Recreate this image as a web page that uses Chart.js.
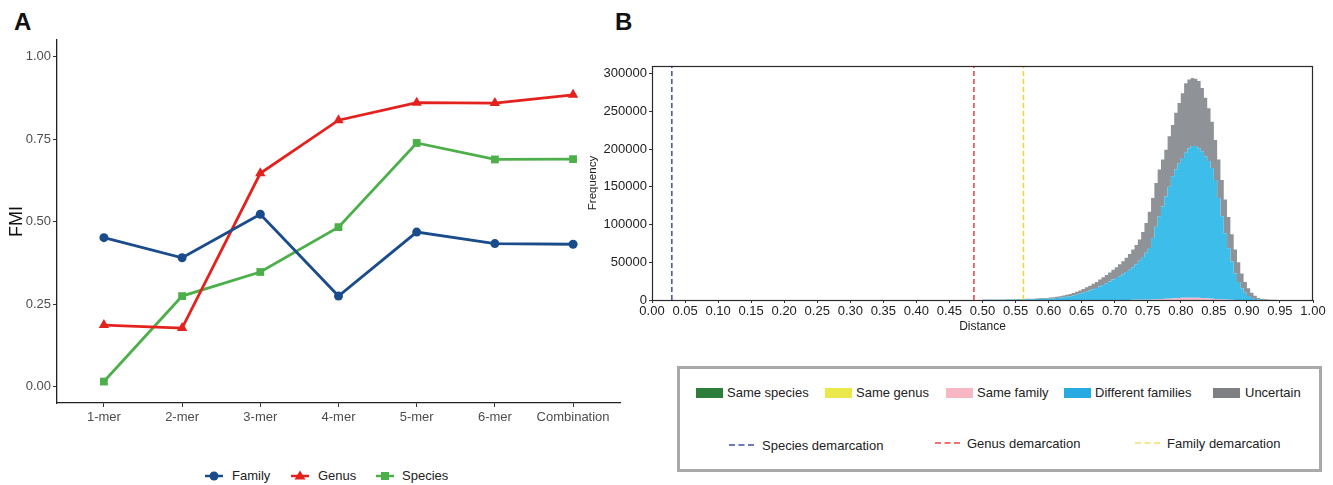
<!DOCTYPE html>
<html>
<head>
<meta charset="utf-8">
<script src="https://cdn.jsdelivr.net/npm/chart.js@4.4.1/dist/chart.umd.min.js"></script>
<style>
  body { margin: 0; width: 1333px; height: 485px; background: #fff; overflow: hidden; position: relative;
         font-family: "Liberation Sans", Arial, sans-serif; }
  .panel-label { position: absolute; font-weight: bold; font-size: 24px; color: #111; line-height: 24px; }
  #wrapA { position: absolute; left: 0; top: 0; width: 630px; height: 440px; }
  #wrapB { position: absolute; left: 580px; top: 40px; width: 760px; height: 300px; }
  .leg { position: absolute; font-size: 13px; color: #222; white-space: nowrap; line-height: 14px; }
  .sw { position: absolute; width: 27px; height: 10px; }
  #legBox { position: absolute; left: 677px; top: 366px; width: 639px; height: 100px; border: 3px solid #a9a9a9; }
  svg { position: absolute; overflow: visible; }
</style>
</head>
<body>
<div class="panel-label" style="left:14px; top:10px;">A</div>
<div class="panel-label" style="left:615px; top:10px;">B</div>

<div id="wrapA"><canvas id="chartA"></canvas></div>
<div id="wrapB"><canvas id="chartB"></canvas></div>

<!-- legend of panel A -->
<svg style="left:205px; top:470px;" width="18" height="12">
  <line x1="0" y1="6" x2="18" y2="6" stroke="#1a4c8b" stroke-width="2.5"/>
  <circle cx="9" cy="6" r="4.5" fill="#1a4c8b"/>
</svg>
<span class="leg" style="left:232px; top:469px;">Family</span>
<svg style="left:291px; top:470px;" width="18" height="12">
  <line x1="0" y1="6" x2="18" y2="6" stroke="#e3221e" stroke-width="2.5"/>
  <polygon points="9,0.5 14.5,9.5 3.5,9.5" fill="#e3221e"/>
</svg>
<span class="leg" style="left:318px; top:469px;">Genus</span>
<svg style="left:376px; top:470px;" width="18" height="12">
  <line x1="0" y1="6" x2="18" y2="6" stroke="#4daf4a" stroke-width="2.5"/>
  <rect x="5" y="2" width="8" height="8" fill="#4daf4a"/>
</svg>
<span class="leg" style="left:402px; top:469px;">Species</span>

<!-- legend of panel B -->
<div id="legBox"></div>
<div class="sw" style="left:696px; top:388px; background:#2e7d3a;"></div>
<span class="leg" style="left:727px; top:386px;">Same species</span>
<div class="sw" style="left:825px; top:388px; background:#eae84a;"></div>
<span class="leg" style="left:856px; top:386px;">Same genus</span>
<div class="sw" style="left:946px; top:388px; background:#f7b7c3;"></div>
<span class="leg" style="left:977px; top:386px;">Same family</span>
<div class="sw" style="left:1064px; top:388px; background:#27aae1;"></div>
<span class="leg" style="left:1095px; top:386px;">Different families</span>
<div class="sw" style="left:1213px; top:388px; background:#7f8083;"></div>
<span class="leg" style="left:1245px; top:386px;">Uncertain</span>

<svg style="left:729px; top:440px;" width="28" height="10">
  <line x1="0" y1="5" x2="28" y2="5" stroke="#3c4da8" stroke-width="1.5" stroke-dasharray="6,3.5"/>
</svg>
<span class="leg" style="left:762px; top:439px;">Species demarcation</span>
<svg style="left:935px; top:438px;" width="28" height="10">
  <line x1="0" y1="5" x2="28" y2="5" stroke="#ee4444" stroke-width="1.5" stroke-dasharray="6,3.5"/>
</svg>
<span class="leg" style="left:967px; top:437px;">Genus demarcation</span>
<svg style="left:1135px; top:438px;" width="28" height="10">
  <line x1="0" y1="5" x2="28" y2="5" stroke="#f0e26a" stroke-width="1.5" stroke-dasharray="6,3.5"/>
</svg>
<span class="leg" style="left:1167px; top:437px;">Family demarcation</span>

<script>
// panel A: FMI per k-mer
const categoriesA = ['1-mer', '2-mer', '3-mer', '4-mer', '5-mer', '6-mer', 'Combination'];
const fmiFamily  = [0.451, 0.390, 0.522, 0.274, 0.468, 0.433, 0.431];
const fmiGenus   = [0.186, 0.177, 0.646, 0.807, 0.860, 0.859, 0.884];
const fmiSpecies = [0.015, 0.274, 0.347, 0.483, 0.738, 0.688, 0.689];
const yTicksA = [0, 0.25, 0.5, 0.75, 1];

// panel B: distance histogram, bin centres (width 0.005), counts in thousands
const binCenters = [
  0.4975, 0.5025, 0.5075, 0.5125, 0.5175, 0.5225, 0.5275, 0.5325, 0.5375, 0.5425, 0.5475,
  0.5525, 0.5575, 0.5625, 0.5675, 0.5725, 0.5775, 0.5825, 0.5875, 0.5925, 0.5975,
  0.6025, 0.6075, 0.6125, 0.6175, 0.6225, 0.6275, 0.6325, 0.6375, 0.6425, 0.6475,
  0.6525, 0.6575, 0.6625, 0.6675, 0.6725, 0.6775, 0.6825, 0.6875, 0.6925, 0.6975,
  0.7025, 0.7075, 0.7125, 0.7175, 0.7225, 0.7275, 0.7325, 0.7375, 0.7425, 0.7475,
  0.7525, 0.7575, 0.7625, 0.7675, 0.7725, 0.7775, 0.7825, 0.7875, 0.7925, 0.7975,
  0.8025, 0.8075, 0.8125, 0.8175, 0.8225, 0.8275, 0.8325, 0.8375, 0.8425, 0.8475,
  0.8525, 0.8575, 0.8625, 0.8675, 0.8725, 0.8775, 0.8825, 0.8875, 0.8925, 0.8975,
  0.9025, 0.9075, 0.9125, 0.9175, 0.9225, 0.9275, 0.9325, 0.9375, 0.9425, 0.9475, 0.9525
];
const sameFamilyK = [
  0, 0, 0, 0, 0, 0, 0, 0, 0, 0, 0,
  0, 0, 0, 0, 0, 0, 0, 0, 0, 0,
  0, 0, 0, 0, 0, 0, 0, 0, 0, 0,
  0, 0, 0, 0, 0, 0, 0, 0, 0, 0,
  0.1, 0.1, 0.1, 0.15, 0.15, 0.2, 0.2, 0.2, 0.25, 0.25,
  0.3, 0.5, 0.7, 0.9, 1.2, 1.5, 1.8, 2.1, 2.4, 2.7,
  2.9, 3.0, 3.1, 3.1, 3.0, 2.9, 2.7, 2.4, 2.1, 1.7,
  1.4, 1.0, 0.7, 0.5, 0.3, 0.2, 0.1, 0, 0, 0,
  0, 0, 0, 0, 0, 0, 0, 0, 0, 0, 0
];
const differentFamiliesK = [
  0, 0.3, 0.3, 0.35, 0.35, 0.4, 0.4, 0.45, 0.5, 0.6, 0.65,
  0.7, 0.8, 0.85, 0.9, 1.0, 1.1, 1.2, 1.35, 1.5, 1.65,
  1.8, 2.1, 2.5, 3.0, 3.5, 4.2, 5.0, 5.9, 7.0, 8.2,
  9.5, 11.0, 12.6, 14.3, 16.0, 18.0, 20.0, 22.2, 24.5, 27.0,
  28.9, 31.4, 33.9, 36.9, 39.9, 43.3, 47.3, 51.8, 56.8, 62.3,
  68.7, 81.5, 96.3, 110.1, 122.8, 135.5, 148.2, 161.9, 170.6, 178.3,
  185.1, 192.0, 197.9, 200.9, 201.0, 198.1, 194.3, 187.6, 181.9, 173.3,
  157.6, 134.0, 110.3, 88.0, 68.3, 50.8, 34.9, 24.0, 15.5, 9.7,
  5.3, 2.7, 1.2, 0.6, 0.3, 0.15, 0.1, 0.05, 0, 0, 0
];
const uncertainK = [
  0, 0.2, 0.2, 0.25, 0.25, 0.3, 0.3, 0.35, 0.4, 0.4, 0.45,
  0.5, 0.5, 0.55, 0.6, 0.7, 0.7, 0.8, 0.85, 1.0, 1.15,
  1.4, 1.6, 1.8, 2.0, 2.3, 2.6, 3.0, 3.4, 3.8, 4.3,
  5.0, 5.8, 6.4, 7.2, 8.0, 9.0, 10.0, 10.8, 12.0, 13.0,
  14.5, 16.0, 17.5, 19.0, 21.0, 23.5, 25.5, 28.0, 33.0, 39.5,
  48.0, 53.0, 58.0, 62.0, 62.0, 62.0, 67.0, 68.0, 75.0, 80.0,
  86.0, 92.0, 91.0, 90.0, 89.0, 89.0, 84.0, 78.0, 70.0, 61.0,
  53.0, 51.0, 48.0, 44.5, 41.4, 36.0, 32.0, 26.0, 19.5, 14.3,
  10.2, 7.0, 4.3, 2.2, 1.2, 0.75, 0.4, 0.25, 0.2, 0.1, 0
];
const speciesCut = 0.03;
const genusCut = 0.487;
const familyCut = 0.562;
const yMaxB = 310000;
const yTicksB = [0, 50000, 100000, 150000, 200000, 250000, 300000];
const xTicksB = [0, 0.05, 0.1, 0.15, 0.2, 0.25, 0.3, 0.35, 0.4, 0.45, 0.5,
                 0.55, 0.6, 0.65, 0.7, 0.75, 0.8, 0.85, 0.9, 0.95, 1];

Chart.defaults.font.family = '"Liberation Sans", Arial, sans-serif';
Chart.defaults.animation = false;

function kmerSeries(label, values, color, style, radius) {
    return {
        label: label,
        data: values.map((v, i) => ({ x: i, y: v })),
        borderColor: color,
        backgroundColor: color,
        borderWidth: 2.8,
        pointStyle: style,
        pointRadius: radius,
        pointBorderWidth: 0,
        tension: 0
    };
}

new Chart(document.getElementById('chartA'), {
    type: 'line',
    data: {
        datasets: [
            kmerSeries('Family', fmiFamily, '#1a4c8b', 'circle', 4.5),
            kmerSeries('Genus', fmiGenus, '#e3221e', 'triangle', 6),
            kmerSeries('Species', fmiSpecies, '#4daf4a', 'rect', 5.5)
        ]
    },
    options: {
        responsive: true,
        maintainAspectRatio: false,
        layout: { padding: { top: 40, right: 10, left: 0, bottom: 0 } },
        plugins: { legend: { display: false }, tooltip: { enabled: false } },
        scales: {
            x: {
                type: 'linear',
                min: -0.6,
                max: 6.6,
                afterBuildTicks: s => { s.ticks = categoriesA.map((c, i) => ({ value: i })); },
                afterFit: s => { s.height = 37; },
                ticks: {
                    callback: v => categoriesA[v],
                    autoSkip: false, maxRotation: 0,
                    color: '#4d4d4d', font: { size: 13 }, padding: 3
                },
                grid: { drawOnChartArea: false, tickLength: 4, color: '#333' },
                border: { color: '#222', width: 1.3 }
            },
            y: {
                min: -0.05,
                max: 1.05,
                afterBuildTicks: s => { s.ticks = yTicksA.map(v => ({ value: v })); },
                afterFit: s => { s.width = 57; },
                ticks: {
                    callback: v => v.toFixed(2),
                    color: '#4d4d4d', font: { size: 13 }, padding: 2
                },
                grid: { drawOnChartArea: false, tickLength: 4, color: '#333' },
                border: { color: '#222', width: 1.3 },
                title: { display: true, text: 'FMI', color: '#111', font: { size: 18 }, padding: { top: 6 } }
            }
        }
    }
});

function histLayer(label, valuesK, color, fill) {
    return {
        label: label,
        data: valuesK.map((v, i) => ({ x: binCenters[i], y: v * 1000 })),
        backgroundColor: color,
        borderColor: 'rgba(0,0,0,0)',
        borderWidth: 0,
        pointRadius: 0,
        stepped: 'middle',
        fill: fill,
        order: 1
    };
}

function cutLine(label, x, color, stackName) {
    return {
        label: label,
        data: [{ x: x, y: 0 }, { x: x, y: yMaxB }],
        borderColor: color,
        borderWidth: 1.5,
        borderDash: [5, 3],
        pointRadius: 0,
        fill: false,
        stack: stackName,
        order: 0
    };
}

const frameB = {
    id: 'frameB',
    afterDatasetsDraw(chart) {
        const { ctx, chartArea: a } = chart;
        ctx.save();
        ctx.strokeStyle = '#2a2a2a';
        ctx.lineWidth = 1.2;
        ctx.strokeRect(Math.round(a.left) + 0.5, Math.round(a.top) + 0.5,
                       Math.round(a.right - a.left) - 1, Math.round(a.bottom - a.top));
        ctx.restore();
    }
};

new Chart(document.getElementById('chartB'), {
    type: 'line',
    data: {
        datasets: [
            cutLine('Species demarcation', speciesCut, '#3c4da8', 'c1'),
            cutLine('Genus demarcation', genusCut, '#ee3b3b', 'c2'),
            cutLine('Family demarcation', familyCut, '#f5d22a', 'c3'),
            histLayer('Same family', sameFamilyK, '#f6b8c6', 'origin'),
            histLayer('Different families', differentFamiliesK, '#3cbdea', '-1'),
            histLayer('Uncertain', uncertainK, '#8f9397', '-1')
        ]
    },
    options: {
        responsive: true,
        maintainAspectRatio: false,
        layout: { padding: { top: 26, right: 27, left: 0, bottom: 0 } },
        plugins: { legend: { display: false }, tooltip: { enabled: false } },
        scales: {
            x: {
                type: 'linear',
                min: 0,
                max: 1,
                afterBuildTicks: s => { s.ticks = xTicksB.map(v => ({ value: v })); },
                afterFit: s => { s.height = 40; },
                ticks: {
                    callback: v => v.toFixed(2),
                    autoSkip: false, maxRotation: 0,
                    color: '#222', font: { size: 13 }, padding: 1
                },
                grid: { drawOnChartArea: false, tickLength: 3, color: '#333' },
                border: { color: '#333', width: 1 },
                title: { display: true, text: 'Distance', color: '#222', font: { size: 12 }, padding: { bottom: 6 } }
            },
            y: {
                stacked: true,
                min: 0,
                max: yMaxB,
                afterBuildTicks: s => { s.ticks = yTicksB.map(v => ({ value: v })); },
                afterFit: s => { s.width = 72; },
                ticks: {
                    callback: v => String(v),
                    color: '#222', font: { size: 13 }, padding: 2
                },
                grid: { drawOnChartArea: false, tickLength: 3, color: '#333' },
                border: { color: '#333', width: 1 },
                title: { display: true, text: 'Frequency', color: '#222', font: { size: 11.5 }, padding: { top: 6 } }
            }
        }
    },
    plugins: [frameB]
});
</script>
</body>
</html>
